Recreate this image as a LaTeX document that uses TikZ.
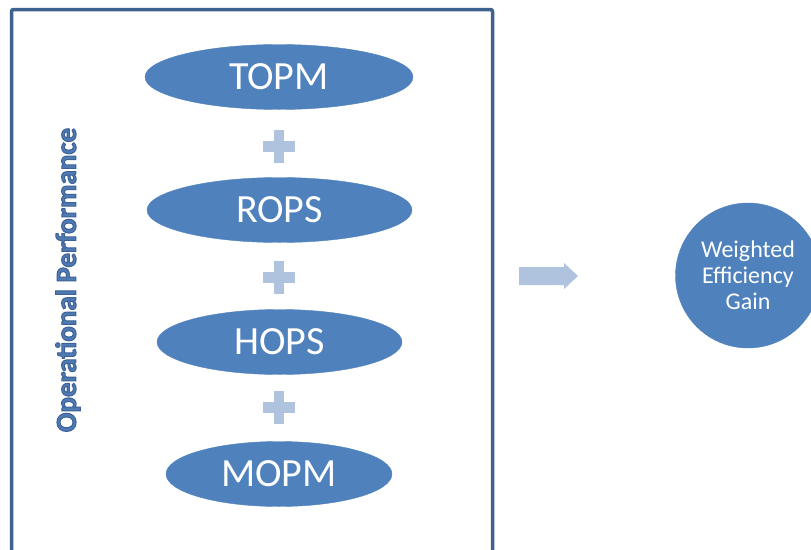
\documentclass[tikz,border=0pt]{standalone}
\usepackage{fontspec}
\setmainfont{Carlito}
\usetikzlibrary{shapes.geometric}
\definecolor{boxblue}{HTML}{3E6190}
\definecolor{fillblue}{HTML}{4F81BD}
\definecolor{lightblue}{HTML}{B0C3DE}
\definecolor{textblue}{HTML}{4F7BB4}
\newcommand{\outlinedtext}[1]{\special{pdf:literal direct 2 Tr 1 w 0.24 0.38 0.58 RG}#1\special{pdf:literal direct 0 Tr}}
\tikzset{
  ell/.style={ellipse, fill=fillblue, draw=fillblue, text=white, font=\fontsize{40}{42}\selectfont, inner sep=0pt},
}
\begin{document}
\begin{tikzpicture}[x=1pt,y=-1pt]
\useasboundingbox (0,0) rectangle (811,549);
\draw[boxblue, line width=3.5pt, rounded corners=2pt] (11.5,9.5) rectangle (492.5,580);
\node[ell, minimum width=268pt, minimum height=65pt] (topm) at (279,77) {TOPM};
\node[ell, minimum width=265pt, minimum height=65pt] (rops) at (279.5,210) {ROPS};
\node[ell, minimum width=245pt, minimum height=65pt] (hops) at (279.5,342) {HOPS};
\node[ell, minimum width=226pt, minimum height=65pt] (mopm) at (279,474) {MOPM};
\foreach \n/\yy in {p1/146,p2/277,p3/407}{
  \coordinate (\n) at (279,\yy);
  \fill[lightblue] ([xshift=-16pt,yshift=-5.5pt]\n) rectangle ([xshift=16pt,yshift=5.5pt]\n);
  \fill[lightblue] ([xshift=-5pt,yshift=-16.5pt]\n) rectangle ([xshift=5pt,yshift=16.5pt]\n);
}
\node[rotate=90, text=textblue, font=\bfseries\fontsize{29}{31}\selectfont] (op) at (68,280) {\outlinedtext{Operational Performance}};
\fill[lightblue] (519,267) -- (564,267) -- (564,263) -- (578,276) -- (564,289) -- (564,285) -- (519,285) -- cycle;
\node[circle, fill=fillblue, draw=fillblue, minimum size=145pt, inner sep=0pt, text=white, align=center, font=\fontsize{24}{26}\selectfont] (weg) at (748,275.5) {Weighted\\Efficiency\\Gain};
\end{tikzpicture}
\end{document}
